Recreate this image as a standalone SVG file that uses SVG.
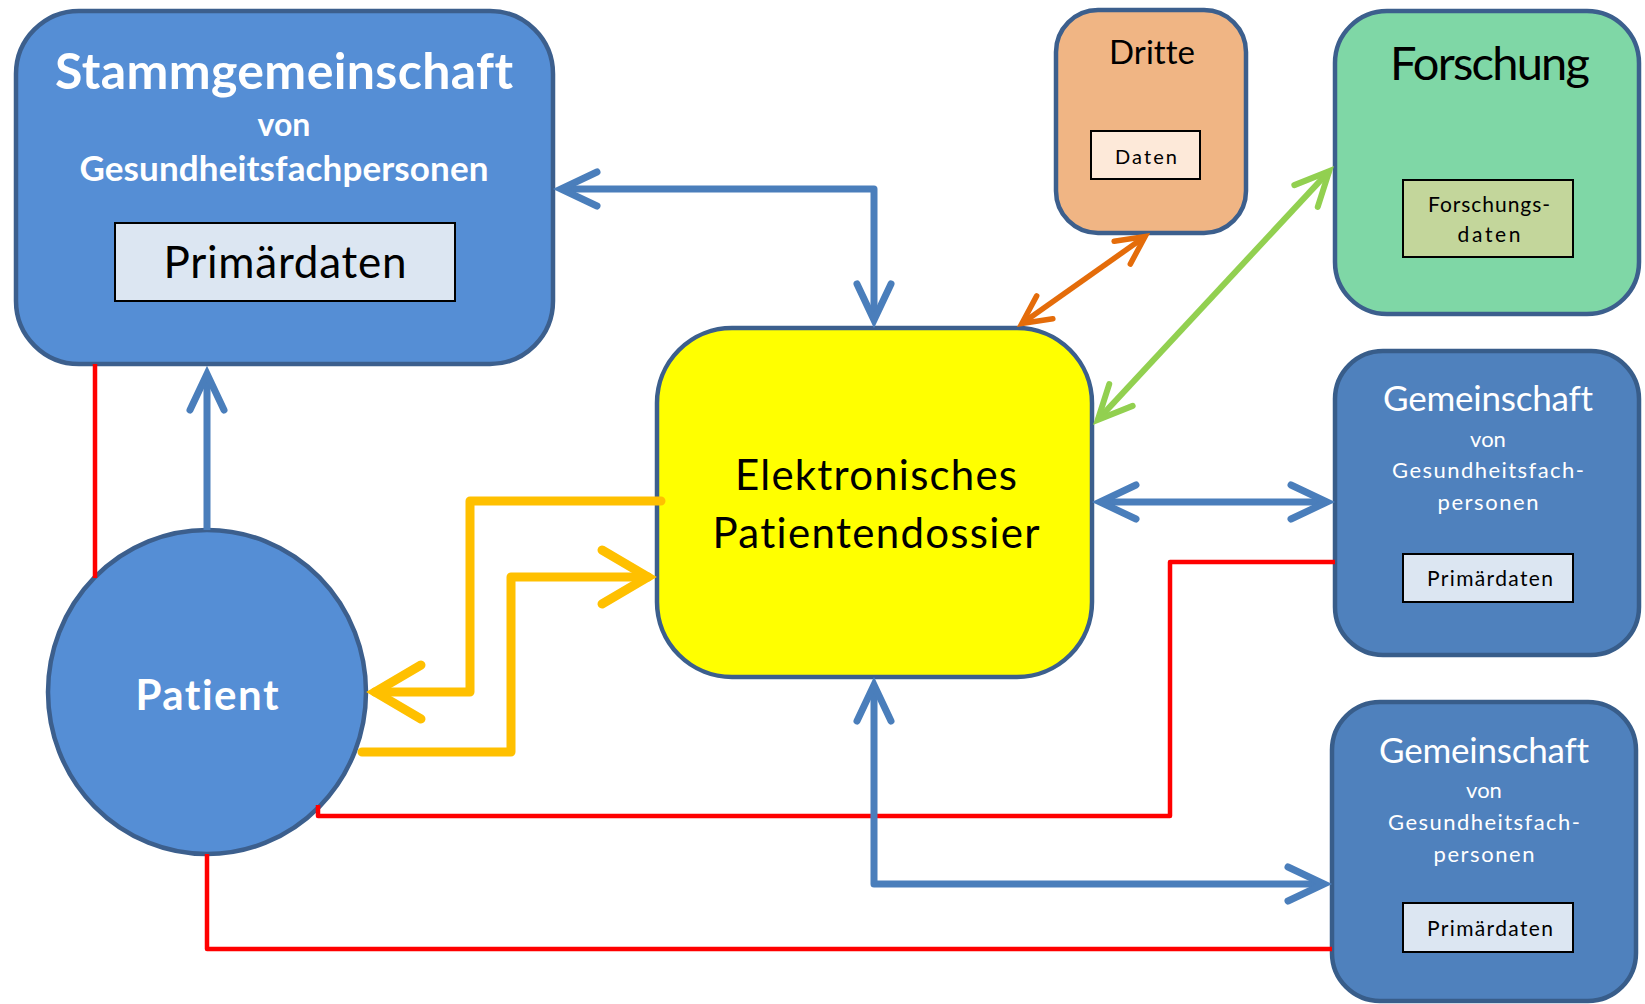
<svg xmlns="http://www.w3.org/2000/svg" width="1645" height="1004" viewBox="0 0 1645 1004">
<style>
.node{stroke-width:4.5}
.blue1{fill:#558ED5;stroke:#3C5F8D}
.blue2{fill:#4F81BD;stroke:#385D8A}
.inner{stroke:#000;stroke-width:2}
.t{font-family:Lato,"Open Sans","Liberation Sans",sans-serif;text-anchor:middle;font-variant-ligatures:none}
.b{font-weight:bold}
.w{fill:#fff}
.k{fill:#000}
.c{fill:none;stroke-linejoin:round}
.cb{stroke:#4A7EBB;stroke-width:7}
.co{stroke:#FFC000;stroke-width:9}
.cd{stroke:#E46C0A;stroke-width:5.5}
.cg{stroke:#92D050;stroke-width:6}
.cr{stroke:#FF0000;stroke-width:4.5}
</style>
<defs>
<marker id="mb" markerUnits="userSpaceOnUse" orient="auto-start-reverse" markerWidth="10" markerHeight="10" refX="0" refY="0" overflow="visible">
<path d="M-36,-17 L0,0 L-36,17" fill="none" stroke="#4A7EBB" stroke-width="7" stroke-linecap="round" stroke-linejoin="miter"/>
</marker>
<marker id="mo" markerUnits="userSpaceOnUse" orient="auto-start-reverse" markerWidth="10" markerHeight="10" refX="0" refY="0" overflow="visible">
<path d="M-46,-27 L0,0 L-46,27" fill="none" stroke="#FFC000" stroke-width="9" stroke-linecap="round" stroke-linejoin="miter"/>
</marker>
<marker id="md" markerUnits="userSpaceOnUse" orient="auto-start-reverse" markerWidth="10" markerHeight="10" refX="0" refY="0" overflow="visible">
<path d="M-28,-14 L0,0 L-28,14" fill="none" stroke="#E46C0A" stroke-width="5.5" stroke-linecap="round" stroke-linejoin="miter"/>
</marker>
<marker id="mg" markerUnits="userSpaceOnUse" orient="auto-start-reverse" markerWidth="10" markerHeight="10" refX="0" refY="0" overflow="visible">
<path d="M-34,-16 L0,0 L-34,16" fill="none" stroke="#92D050" stroke-width="6" stroke-linecap="round" stroke-linejoin="miter"/>
</marker>
</defs>
<rect width="1645" height="1004" fill="#fff"/>

<g id="stammgemeinschaft">
<rect class="node blue1" x="16" y="11" width="537" height="353" rx="63"/>
<text class="t b w" x="284" y="89" font-size="50" textLength="458">Stammgemeinschaft</text>
<text class="t b w" x="284" y="136" font-size="32">von</text>
<text class="t b w" x="284" y="181" font-size="35" textLength="409">Gesundheitsfachpersonen</text>
<rect class="inner" x="115" y="223" width="340" height="78" fill="#DCE6F2"/>
<text class="t k" x="285" y="278" font-size="44" textLength="243">Primärdaten</text>
</g>

<g id="patient">
<ellipse class="node blue1" cx="207" cy="692" rx="159" ry="162"/>
<text class="t b w" x="207" y="710" font-size="42" textLength="143">Patient</text>
</g>

<g id="epd">
<rect class="node" x="657" y="328" width="435" height="349" rx="75" fill="#FFFF00" stroke="#3C5F8D"/>
<text class="t k" x="876" y="490" font-size="42" textLength="282">Elektronisches</text>
<text class="t k" x="876" y="548" font-size="42" textLength="327">Patientendossier</text>
</g>

<g id="dritte">
<rect class="node" x="1056" y="10" width="190" height="223" rx="42" fill="#F0B584" stroke="#3C5F8D"/>
<text class="t k" x="1152" y="64" font-size="33" textLength="86">Dritte</text>
<rect class="inner" x="1091" y="131" width="109" height="48" fill="#FDE9D9"/>
<text class="t k" x="1146" y="164" font-size="20" textLength="62">Daten</text>
</g>

<g id="forschung">
<rect class="node" x="1335" y="11" width="304" height="303" rx="52" fill="#7FD7A6" stroke="#3C5F8D"/>
<text class="t k" x="1490" y="80" font-size="47" textLength="200">Forschung</text>
<rect class="inner" x="1403" y="180" width="170" height="77" fill="#C3D69B"/>
<text class="t k" x="1489" y="212" font-size="21" textLength="122">Forschungs-</text>
<text class="t k" x="1489" y="242" font-size="21" textLength="63">daten</text>
</g>

<g id="gemeinschaft1">
<rect class="node blue2" x="1335" y="351" width="304" height="304" rx="48"/>
<text class="t w" x="1488" y="411" font-size="35" textLength="210">Gemeinschaft</text>
<text class="t w" x="1488" y="447" font-size="22">von</text>
<text class="t w" x="1488" y="478" font-size="22" textLength="192">Gesundheitsfach-</text>
<text class="t w" x="1488" y="510" font-size="22" textLength="101">personen</text>
<rect class="inner" x="1403" y="554" width="170" height="48" fill="#DCE6F2"/>
<text class="t k" x="1490" y="586" font-size="21" textLength="126">Primärdaten</text>
</g>

<g id="gemeinschaft2">
<rect class="node blue2" x="1332" y="702" width="304" height="299" rx="48"/>
<text class="t w" x="1484" y="763" font-size="35" textLength="210">Gemeinschaft</text>
<text class="t w" x="1484" y="798" font-size="22">von</text>
<text class="t w" x="1484" y="830" font-size="22" textLength="192">Gesundheitsfach-</text>
<text class="t w" x="1484" y="862" font-size="22" textLength="101">personen</text>
<rect class="inner" x="1403" y="903" width="170" height="49" fill="#DCE6F2"/>
<text class="t k" x="1490" y="936" font-size="21" textLength="126">Primärdaten</text>
</g>

<g id="connectors">
<path class="c cr" d="M95,364 V578"/>
<path class="c cr" d="M1335,562 H1170 V816 H318 V805"/>
<path class="c cr" d="M207,854 V949 H1332"/>
<path class="c cb" d="M561,189 H874 V320" marker-start="url(#mb)" marker-end="url(#mb)"/>
<path class="c cb" d="M207,530 V374" marker-end="url(#mb)"/>
<path class="c cb" d="M1100,502 H1327" marker-start="url(#mb)" marker-end="url(#mb)"/>
<path class="c cb" d="M874,685 V884 H1324" marker-start="url(#mb)" marker-end="url(#mb)"/>
<path class="c co" d="M661,501 H470 V692 H375" stroke-linecap="round" marker-end="url(#mo)"/>
<path class="c co" d="M362,752 H511 V577 H648" stroke-linecap="round" marker-end="url(#mo)"/>
<path class="c cd" d="M1021.9,323.5 L1145.1,236.5" marker-start="url(#md)" marker-end="url(#md)"/>
<path class="c cg" d="M1097.8,419.9 L1329.2,171.1" marker-start="url(#mg)" marker-end="url(#mg)"/>
</g>
</svg>
